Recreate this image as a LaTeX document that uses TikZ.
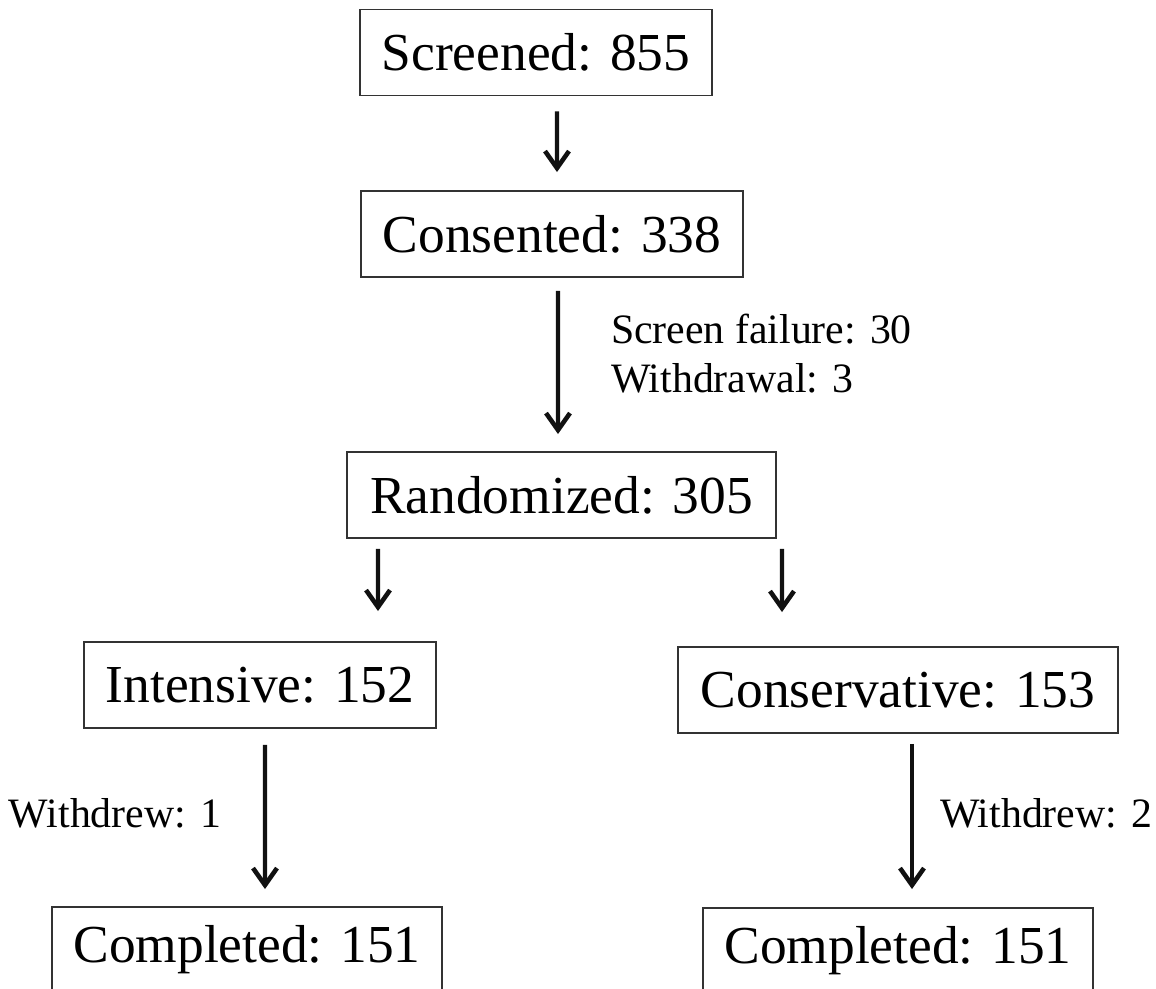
\documentclass[tikz,border=0pt]{standalone}
\usepackage{fontspec}
\setmainfont{Liberation Serif}
\usetikzlibrary{arrows.meta, positioning, calc}
\definecolor{darkline}{HTML}{111111}
\definecolor{boxborder}{HTML}{333333}
\tikzset{
  stage/.style={rectangle, draw=boxborder, line width=1.1pt, fill=white,
                minimum height=1.72cm, inner sep=0pt,
                font=\fontsize{30.4}{36}\selectfont},
  note/.style={font=\fontsize{23.8}{27.9}\selectfont, align=left, inner sep=0pt},
  flow/.style={-{Straight Barb[length=3.4mm, width=4.8mm, line width=2.6pt]},
               line width=2.3pt, draw=darkline},
}

\begin{document}
\begin{tikzpicture}
\useasboundingbox (0,0) rectangle (23.12,-19.76);

% Enrollment spine
\node[stage, minimum width=7.04cm] (screened)   at (10.72,-1.05) {Screened: 855};
\node[stage, minimum width=7.64cm] (consented)  at (11.04,-4.68) {Consented: 338};
\node[stage, minimum width=8.58cm] (randomized) at (11.23,-9.90) {Randomized: 305};

% Arms, the completed boxes run past the lower edge
\node[stage, minimum width=7.04cm] (intensive)    at (5.20,-13.70)  {Intensive: 152};
\node[stage, minimum width=8.80cm] (conservative) at (17.96,-13.80) {Conservative: 153};
\node[stage, minimum width=7.80cm] (doneint)      at (4.94,-19.00)  {Completed: 151};
\node[stage, minimum width=7.80cm] (donecons)     at (17.96,-19.02) {Completed: 151};

% Flow
\draw[flow, shorten <=0.30cm, shorten >=0.36cm]
  ([xshift=0.42cm]screened.south) -- ([xshift=0.10cm]consented.north);
\draw[flow, shorten <=0.26cm, shorten >=0.34cm]
  ([xshift=0.12cm]consented.south) -- ([xshift=-0.07cm]randomized.north)
  node[note, midway, right=1.02cm, yshift=0.22cm] {Screen failure: 30\\Withdrawal: 3};
\draw[flow, shorten <=0.20cm, shorten >=0.60cm]
  ([xshift=-3.67cm]randomized.south) -- ([xshift=2.36cm]intensive.north);
\draw[flow, shorten <=0.20cm, shorten >=0.68cm]
  ([xshift=4.41cm]randomized.south) -- ([xshift=-2.32cm]conservative.north);
\draw[flow, shorten <=0.32cm, shorten >=0.34cm]
  ([xshift=0.10cm]intensive.south) -- ([xshift=0.36cm]doneint.north)
  node[note, midway, left=0.84cm, yshift=0.09cm] {Withdrew: 1};
\draw[flow, shorten <=0.20cm, shorten >=0.36cm]
  ([xshift=0.28cm]conservative.south) -- ([xshift=0.28cm]donecons.north)
  node[note, midway, right=0.52cm, yshift=0.14cm] {Withdrew: 2};

\end{tikzpicture}
\end{document}
